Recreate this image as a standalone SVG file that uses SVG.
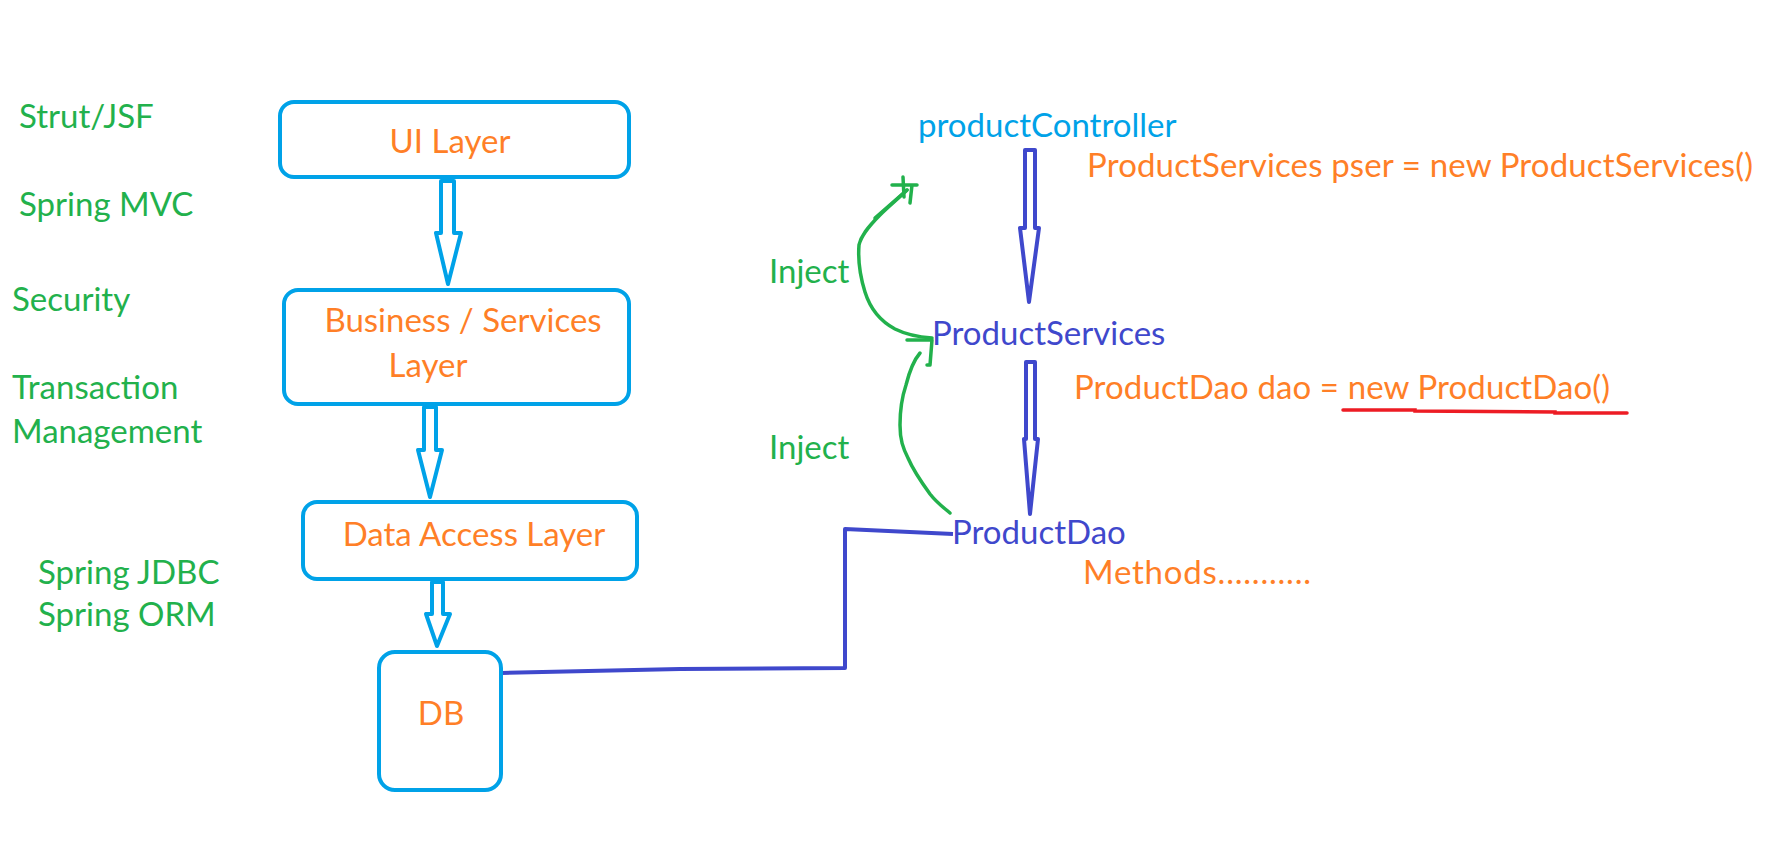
<svg xmlns="http://www.w3.org/2000/svg" width="1772" height="863" viewBox="0 0 1772 863">
<style>
text{font-family:Lato,"Open Sans","Liberation Sans",sans-serif;font-size:33px}
.g{fill:#22B14C}
.o{fill:#FF7F27}
.b{fill:#3F48CC}
.lb{fill:#00A2E8}
.box{fill:#fff;stroke:#00A2E8;stroke-width:4}
.la{fill:#fff;stroke:#00A2E8;stroke-width:4;stroke-linejoin:round}
.ra{fill:#fff;stroke:#3F48CC;stroke-width:4;stroke-linejoin:round}
.ln{fill:none;stroke:#3F48CC;stroke-width:4;stroke-linejoin:round}
.gc{fill:none;stroke:#22B14C;stroke-width:3.5;stroke-linecap:round;stroke-linejoin:round}
.red{fill:none;stroke:#ED1C24;stroke-width:3.5;stroke-linecap:round}
</style>
<rect width="1772" height="863" fill="#fff"/>
<g id="labels-left">
<text class="g" x="19" y="128">Strut/JSF</text>
<text class="g" x="19" y="216">Spring MVC</text>
<text class="g" x="12" y="311">Security</text>
<text class="g" x="12" y="399">Transaction</text>
<text class="g" x="12" y="443">Management</text>
<text class="g" x="38" y="584">Spring JDBC</text>
<text class="g" x="38" y="626">Spring ORM</text>
</g>
<g id="connectors">
<path class="la" d="M441,181 L454,181 L454,233 L461,233 L448,284 L436,233 L441,233 Z"/>
<path class="la" d="M424,407 L436,407 L436,450 L442,450 L430,497 L418,450 L424,450 Z"/>
<path class="la" d="M432,582 L443,582 L443,614 L450,614 L437,646 L426,614 L432,614 Z"/>
<path class="ra" d="M1025,150 L1035,150 L1035,228 L1039,228 L1029,302 L1020,228 L1025,228 Z"/>
<path class="ra" d="M1026,362 L1035,362 L1035,439 L1038,439 L1030,514 L1024,439 L1026,439 Z"/>
<polyline class="ln" points="502,673 680,669 845,668 845,529 953,534"/>
<path class="gc" d="M932,338 C918,337 907,335 895,329 C880,321 870,308 865,292 C860,276 858,258 859,245 C861,236 867,228 880,215 C889,206 900,197 907,190"/>
<path class="gc" d="M892,185 L917,185 M903,177 L904,197 M912,185 L910,203 M875,218 L907,190"/>
<path class="gc" d="M907,340 L932,340 L930,365 L927,365"/>
<path class="gc" d="M950,513 C943,507 937,503 930,494 C922,483 914,472 908,458 C903,448 900,440 900,425 C900,410 902,397 906,385 C909,373 914,360 920,353"/>
<polyline class="red" points="1343,410 1415,410 1415,411 1555,412 1555,413 1627,413"/>
</g>
<g id="ui-layer">
<rect class="box" x="280" y="102" width="349" height="75" rx="14"/>
<text class="o" x="450" y="153" text-anchor="middle">UI Layer</text>
</g>
<g id="business-layer">
<rect class="box" x="284" y="290" width="345" height="114" rx="14"/>
<text class="o" x="463" y="332" text-anchor="middle">Business / Services</text>
<text class="o" x="428" y="377" text-anchor="middle">Layer</text>
</g>
<g id="data-access-layer">
<rect class="box" x="303" y="502" width="334" height="77" rx="14"/>
<text class="o" x="474" y="546" text-anchor="middle">Data Access Layer</text>
</g>
<g id="db">
<rect class="box" x="379" y="652" width="122" height="138" rx="16"/>
<text class="o" x="441" y="725" text-anchor="middle">DB</text>
</g>
<g id="product-controller">
<text class="lb" x="918" y="137">productController</text>
<text class="o" x="1087" y="177" textLength="666" lengthAdjust="spacing">ProductServices pser = new ProductServices()</text>
</g>
<g id="product-services">
<text class="b" x="932" y="345">ProductServices</text>
<text class="o" x="1074" y="399" textLength="536" lengthAdjust="spacing">ProductDao dao = new ProductDao()</text>
</g>
<g id="product-dao">
<text class="b" x="952" y="544">ProductDao</text>
<text class="o" x="1083" y="584" textLength="228" lengthAdjust="spacing">Methods...........</text>
</g>
<g id="inject-labels">
<text class="g" x="769" y="283">Inject</text>
<text class="g" x="769" y="459">Inject</text>
</g>
</svg>
